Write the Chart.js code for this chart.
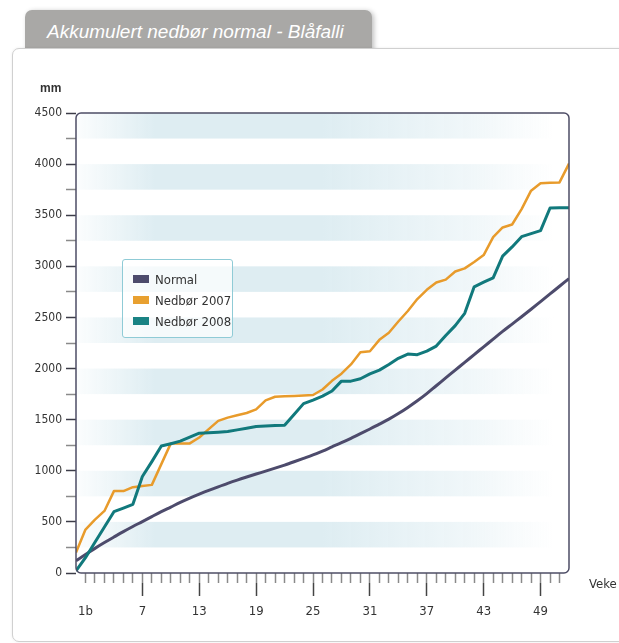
<!DOCTYPE html>
<html>
<head>
<meta charset="utf-8">
<script src="https://cdn.jsdelivr.net/npm/chart.js@4.4.0/dist/chart.umd.min.js"></script>
<style>
  html, body { margin: 0; padding: 0; background: #fff; }
  body { width: 619px; height: 643px; position: relative; overflow: hidden; font-family: 'Liberation Sans', Arial, sans-serif; }
  .tab { position: absolute; left: 25px; top: 10px; width: 347px; height: 50px; background: #a9a8a6;
         border-radius: 7px 7px 0 0; box-shadow: 2px 1px 5px rgba(0,0,0,0.25); }
  .tab span { position: absolute; left: 22px; top: 11px; color: #fff; font-style: italic; font-size: 19px; white-space: nowrap; }
  .panel { position: absolute; left: 12px; top: 48px; width: 690px; height: 592px; background: #fff;
           border: 1px solid #d0d0d0; border-radius: 7px; box-shadow: 0 0 3px rgba(0,0,0,0.08); }
  #c { position: absolute; left: 0; top: 0; }
  .unit { position: absolute; left: 40px; top: 81px; font-size: 12px; font-weight: bold; color: #333; }
  .veke { position: absolute; left: 589px; top: 576px; font-size: 13px; color: #333; font-stretch: condensed;
          font-family: 'Liberation Sans Narrow', 'DejaVu Sans Condensed', 'Liberation Sans', sans-serif; }
  .legend { position: absolute; left: 122px; top: 259px; width: 109px; height: 77px; border: 1px solid #8fcbd6;
            border-radius: 3px; background: rgba(255,255,255,0.7); }
  .legend div { position: absolute; left: 10px; height: 16px; font-size: 13px; color: #333; line-height: 16px;
                font-stretch: condensed; white-space: nowrap;
                font-family: 'Liberation Sans Narrow', 'DejaVu Sans Condensed', 'Liberation Sans', sans-serif; }
  .legend i { display: inline-block; width: 16px; height: 8px; margin-right: 6px; vertical-align: 1px; }
</style>
</head>
<body>
<div class="tab"><span>Akkumulert nedbør normal - Blåfalli</span></div>
<div class="panel"></div>
<canvas id="c" width="619" height="643"></canvas>
<div class="unit">mm</div>
<div class="veke">Veke</div>
<div class="legend" id="legend"></div>
<script>
const weeks = [0,1,2,3,4,5,6,7,8,9,10,11,12,13,14,15,16,17,18,19,20,21,22,23,24,25,26,
               27,28,29,30,31,32,33,34,35,36,37,38,39,40,41,42,43,44,45,46,47,48,49,50,51,52];
const normal = [120,180,241,298,352,405,455,503,552,600,645,690,732,771,808,843,877,909,939,968,
                997,1026,1056,1088,1121,1155,1193,1234,1275,1318,1363,1409,1456,1505,1560,1620,1685,1755,1832,1908,
                1985,2060,2137,2212,2288,2363,2435,2507,2580,2655,2730,2805,2880];
const nedbor2007 = [200,425,522,607,801,801,840,850,862,1065,1268,1268,1268,1326,1407,1488,1520,1543,1565,1601,
                    1689,1724,1728,1732,1736,1741,1795,1880,1950,2040,2160,2170,2281,2350,2460,2563,2680,2770,2842,2870,
                    2950,2980,3043,3110,3285,3380,3409,3560,3740,3812,3817,3821,4005];
const nedbor2008 = [20,150,300,450,600,635,672,944,1090,1242,1265,1290,1330,1368,1373,1378,1384,1400,1416,1433,
                    1438,1442,1446,1550,1657,1692,1731,1780,1877,1877,1900,1948,1985,2040,2100,2142,2136,2170,2220,2324,
                    2420,2540,2800,2845,2888,3100,3190,3290,3320,3350,3571,3572,3574];
const majorWeeks = [1,7,13,19,25,31,37,43,49];
const majorLabels = ['1b','7','13','19','25','31','37','43','49'];
const yTicks = [0,250,500,750,1000,1250,1500,1750,2000,2250,2500,2750,3000,3250,3500,3750,4000,4250,4500];

const narrow = "'Liberation Sans Narrow', 'DejaVu Sans Condensed', 'Liberation Sans', sans-serif";
const pts = vals => weeks.map((w, i) => ({x: w, y: vals[i]}));

// stripes behind the lines, frame on top of them
const backdrop = {
  id: 'backdrop',
  beforeDatasetsDraw(chart) {
    const {ctx, chartArea: a, scales: {y}} = chart;
    const g = ctx.createLinearGradient(a.left, 0, a.right, 0);
    g.addColorStop(0, 'rgba(222,237,242,0.1)');
    g.addColorStop(0.16, 'rgba(222,237,242,1)');
    g.addColorStop(0.5, 'rgba(222,237,242,1)');
    g.addColorStop(0.8, 'rgba(222,237,242,0.45)');
    g.addColorStop(0.97, 'rgba(222,237,242,0)');
    ctx.save();
    ctx.fillStyle = g;
    for (let v = 250; v < 4500; v += 500) {
      const t = y.getPixelForValue(v + 250), b = y.getPixelForValue(v);
      ctx.fillRect(a.left, t, a.right - a.left, b - t);
    }
    ctx.restore();
  },
  afterDatasetsDraw(chart) {
    const {ctx, chartArea: a} = chart;
    ctx.save();
    ctx.strokeStyle = '#4e4d66';
    ctx.lineWidth = 1.5;
    ctx.beginPath();
    ctx.roundRect(a.left, a.top, a.right - a.left, a.bottom - a.top, 5);
    ctx.stroke();
    ctx.restore();
  }
};

const chart = new Chart(document.getElementById('c'), {
  type: 'line',
  data: {
    datasets: [
      {label: 'Normal', data: pts(normal), borderColor: '#4d4b6c', backgroundColor: '#4d4b6c',
       borderWidth: 3, cubicInterpolationMode: 'monotone', order: 2},
      {label: 'Nedbør 2007', data: pts(nedbor2007), borderColor: '#e89b2b', backgroundColor: '#e8a030',
       borderWidth: 2.5, order: 1},
      {label: 'Nedbør 2008', data: pts(nedbor2008), borderColor: '#11797c', backgroundColor: '#1a8384',
       borderWidth: 3, order: 0}
    ]
  },
  options: {
    responsive: false,
    animation: false,
    layout: {padding: {top: 113, right: 50, left: 0, bottom: 0}},
    elements: {point: {radius: 0}, line: {borderJoinStyle: 'round'}},
    plugins: {legend: {display: false}, tooltip: {enabled: false}},
    scales: {
      x: {
        type: 'linear', min: 0, max: 52, position: 'bottom', weight: 0,
        border: {display: false},
        grid: {drawOnChartArea: false, tickLength: 10, tickWidth: 1.5,
               color: c => (c.tick && c.tick.value > 0 && c.tick.value < 52) ? '#8a8a8a' : 'rgba(0,0,0,0)'},
        ticks: {display: false},
        afterBuildTicks: s => { s.ticks = weeks.map(v => ({value: v})); },
        afterFit: s => { s.height = 10; }
      },
      xMajor: {
        type: 'linear', min: 0, max: 52, position: 'bottom', weight: 1,
        border: {display: false},
        grid: {drawOnChartArea: false, tickLength: 13, tickWidth: 1.5,
               color: c => (c.tick && c.tick.value === 1) ? 'rgba(0,0,0,0)' : '#444'},
        ticks: {padding: 8, color: '#333', font: {family: narrow, size: 13}, maxRotation: 0, autoSkip: false,
                callback: v => majorLabels[majorWeeks.indexOf(v)]},
        afterBuildTicks: s => { s.ticks = majorWeeks.map(v => ({value: v})); },
        afterFit: s => { s.height = 60; }
      },
      y: {
        type: 'linear', min: 0, max: 4500,
        border: {display: false},
        grid: {drawOnChartArea: false, tickLength: 10, tickWidth: 1.5,
               color: c => (c.tick && c.tick.value % 500 === 0) ? '#3c3c48' : '#8a8a8a'},
        ticks: {padding: 4, color: '#333', font: {family: narrow, size: 12}, autoSkip: false,
                callback: v => (v % 500 === 0 ? v : '')},
        afterBuildTicks: s => { s.ticks = yTicks.map(v => ({value: v})); },
        afterFit: s => { s.width = 76; }
      }
    }
  },
  plugins: [backdrop]
});

// legend box from the chart's own datasets
const leg = document.getElementById('legend');
chart.data.datasets.forEach((d, i) => {
  const row = document.createElement('div');
  row.style.top = (12 + i * 21) + 'px';
  row.innerHTML = '<i style="background:' + d.backgroundColor + '"></i>' + d.label;
  leg.appendChild(row);
});
</script>
</body>
</html>
